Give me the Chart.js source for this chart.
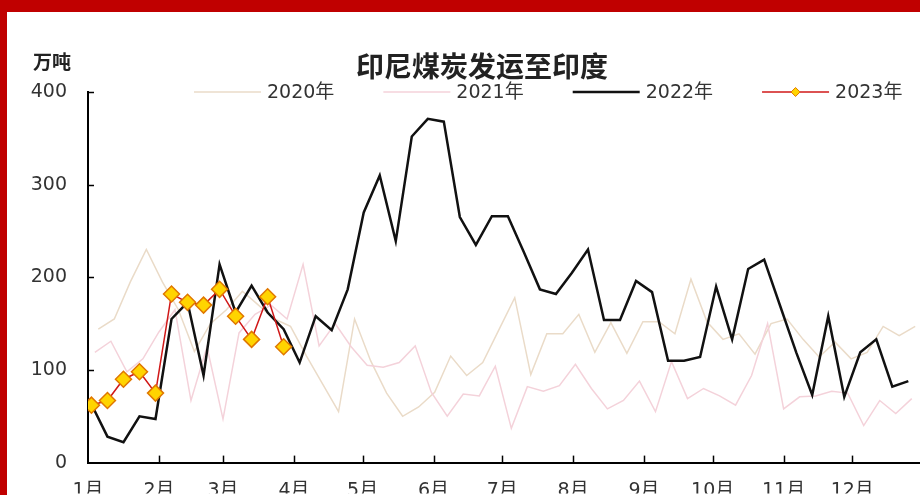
<!DOCTYPE html>
<html>
<head>
<meta charset="utf-8">
<script src="https://cdn.jsdelivr.net/npm/chart.js"></script>
<style>
  html, body { margin: 0; padding: 0; overflow: hidden; background: #fff; }
  #wrap { position: relative; width: 920px; height: 495px; }
  #c { position: absolute; left: 0; top: 0; }
  .band-top { position: absolute; left: 0; top: 0; width: 920px; height: 12px; background: #c00000; }
  .band-left { position: absolute; left: 0; top: 0; width: 7px; height: 495px; background: #c00000; }
</style>
</head>
<body>
<div id="wrap">
  <canvas id="c" width="920" height="495"></canvas>
  <div class="band-top"></div>
  <div class="band-left"></div>
</div>
<script>
// ---- data ----
const chartTitle = '印尼煤炭发运至印度';
const unitLabel = '万吨';
const monthLabels = ['1月','2月','3月','4月','5月','6月','7月','8月','9月','10月','11月','12月'];
const monthStartDays = [0,31,59,90,120,151,181,212,243,273,304,334];
const yTicks = [0,100,200,300,400];
const seriesNames = ['2020年','2021年','2022年','2023年'];
// first weekly observation, day of year
const firstDay2020 = 4.5;
const firstDay2021 = 3;
const firstDay2022 = 1.5;
const firstDay2023 = 1.5;
const values2020 = [144,155,195,230,195,165,120,150,165,185,170,155,147,115,85,55,155,110,75,50,60,76,115,94,108,143,178,95,139,139,160,119,151,118,152,152,139,198,152,133,139,117,150,155,133,114,130,112,119,147,137,147];
const values2021 = [119,131,98,112,141,165,67,125,47,140,160,170,155,214,126,150,125,105,103,108,126,76,50,74,72,104,37,82,77,83,106,80,58,67,88,55,109,69,80,72,62,94,150,58,71,72,77,75,40,67,53,69];
const values2022 = [63,28,22,50,47,155,173,94,214,162,191,162,144,108,158,143,187,270,310,239,352,371,368,265,235,266,266,227,187,182,205,230,154,154,196,184,110,110,114,190,133,209,219,169,119,73,158,71,119,133,82,88];
const values2023 = [62,67,90,98,75,182,173,170,187,158,133,179,125];

function toPoints(vals, firstDay) {
  return vals.map((v, i) => ({ x: firstDay + 7 * i, y: v }));
}

const FONT = "'DejaVu Sans', 'Noto Sans CJK SC', sans-serif";
Chart.defaults.font.family = FONT;
Chart.defaults.color = '#333';

const decorPlugin = {
  id: 'decor',
  afterDraw(chart) {
    const ctx = chart.ctx;
    const xs = chart.scales.x, ys = chart.scales.y;
    ctx.save();
    // inside tick marks
    ctx.strokeStyle = '#000';
    ctx.lineWidth = 1.5;
    ys.ticks.forEach(t => {
      if (t.value === 0) return;
      const py = Math.round(ys.getPixelForValue(t.value)) + 0.5;
      ctx.beginPath(); ctx.moveTo(xs.left, py); ctx.lineTo(xs.left + 6, py); ctx.stroke();
    });
    xs.ticks.forEach((t, i) => {
      if (i === 0) return;
      const px = Math.round(xs.getPixelForValue(t.value)) + 0.5;
      ctx.beginPath(); ctx.moveTo(px, ys.bottom); ctx.lineTo(px, ys.bottom - 7); ctx.stroke();
    });
    // title and unit
    ctx.fillStyle = '#222';
    ctx.textBaseline = 'middle';
    ctx.textAlign = 'center';
    ctx.font = "bold 28px 'Noto Sans CJK SC', sans-serif";
    ctx.fillText(chartTitle, 482, 66);
    ctx.textAlign = 'left';
    ctx.font = "bold 19px 'Noto Sans CJK SC', sans-serif";
    ctx.fillText(unitLabel, 33, 62);
    // legend
    ctx.font = '19px ' + FONT;
    let lx = 194;
    const ly = 92;
    chart.data.datasets.forEach(ds => {
      ctx.strokeStyle = ds.borderColor;
      ctx.lineWidth = ds.borderWidth;
      ctx.beginPath(); ctx.moveTo(lx, ly); ctx.lineTo(lx + 67, ly); ctx.stroke();
      if (ds.pointRadius > 0) {
        const cx = lx + 33.5, r = 4.5;
        ctx.beginPath();
        ctx.moveTo(cx, ly - r); ctx.lineTo(cx + r, ly); ctx.lineTo(cx, ly + r); ctx.lineTo(cx - r, ly); ctx.closePath();
        ctx.fillStyle = ds.pointBackgroundColor; ctx.fill();
        ctx.strokeStyle = ds.pointBorderColor; ctx.lineWidth = 1; ctx.stroke();
      }
      ctx.fillStyle = '#333';
      ctx.fillText(ds.label, lx + 73, ly + 1);
      lx += 73 + ctx.measureText(ds.label).width + 49;
    });
    ctx.restore();
  }
};

new Chart(document.getElementById('c'), {
  type: 'line',
  data: {
    datasets: [
      { label: seriesNames[0], data: toPoints(values2020, firstDay2020), borderColor: '#eadbc8', borderWidth: 1.5, pointRadius: 0, tension: 0, order: 3 },
      { label: seriesNames[1], data: toPoints(values2021, firstDay2021), borderColor: '#f4d2da', borderWidth: 1.5, pointRadius: 0, tension: 0, order: 2 },
      { label: seriesNames[2], data: toPoints(values2022, firstDay2022), borderColor: '#111111', borderWidth: 2.5, pointRadius: 0, tension: 0, order: 1 },
      { label: seriesNames[3], data: toPoints(values2023, firstDay2023), borderColor: '#d01818', borderWidth: 1.5, tension: 0, order: 0,
        pointStyle: 'rectRot', pointRadius: 8, pointBackgroundColor: '#ffd400', pointBorderColor: '#e07800', pointBorderWidth: 1.5 }
    ]
  },
  options: {
    responsive: false,
    animation: false,
    events: [],
    layout: { autoPadding: false, padding: { top: 92, left: 0, right: 0, bottom: 0 } },
    plugins: { legend: { display: false }, title: { display: false }, tooltip: { enabled: false } },
    scales: {
      x: {
        type: 'linear', min: 0, max: 363.6,
        afterBuildTicks: s => { s.ticks = monthStartDays.map(v => ({ value: v })); },
        afterFit: s => { s.height = 31; },
        ticks: { autoSkip: false, maxRotation: 0, padding: 17, font: { size: 19 }, color: '#333',
          callback: (v, i) => monthLabels[i] },
        grid: { display: true, drawOnChartArea: false, drawTicks: false, color: 'rgba(0,0,0,0)' },
        border: { display: true, color: '#000', width: 2 }
      },
      y: {
        min: 0, max: 400,
        afterBuildTicks: s => { s.ticks = yTicks.map(v => ({ value: v })); },
        afterFit: s => { s.width = 88; },
        ticks: { padding: 21, font: { size: 19 }, color: '#333' },
        grid: { display: true, drawOnChartArea: false, drawTicks: false, color: 'rgba(0,0,0,0)' },
        border: { display: true, color: '#000', width: 2 }
      }
    }
  },
  plugins: [decorPlugin]
});
</script>
</body>
</html>
